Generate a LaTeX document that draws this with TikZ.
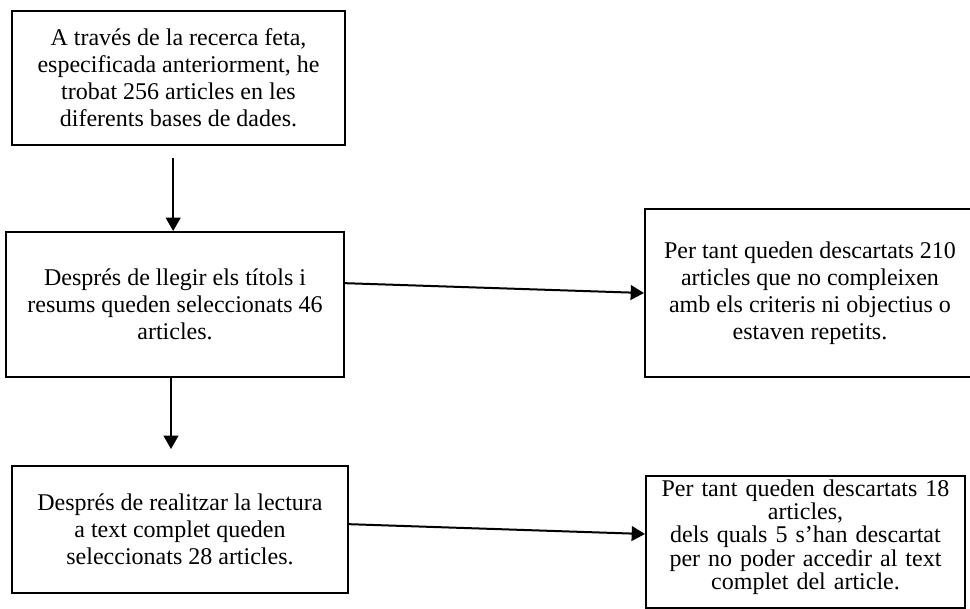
\documentclass[tikz,border=0pt]{standalone}
\usepackage{fontspec}
\setmainfont{Liberation Serif}
\usetikzlibrary{arrows.meta}
\begin{document}
\begin{tikzpicture}[x=0.75pt,y=-0.75pt,
        box/.style={draw,line width=1.5pt,align=center,inner sep=0pt,font=\fontsize{18}{20.25}\selectfont},
        flow/.style={line width=1.5pt,-{Triangle[length=10pt,width=11pt]}}]
        \useasboundingbox (0,0) rectangle (970,608);
        \node[box,minimum width=249.75pt,minimum height=100.5pt] (cerca) at (178.5,78) {A través de la recerca feta,\\especificada anteriorment, he\\trobat 256 articles en les\\diferents bases de dades.};
        \node[box,minimum width=253.5pt,minimum height=108.75pt] (seleccio) at (175,304.5) {Després de llegir els títols i\\resums queden seleccionats 46\\articles.};
        \node[box,minimum width=247.5pt,minimum height=126pt] (descartats) at (810,293) {Per tant queden descartats 210\\articles que no compleixen\\amb els criteris ni objectius o\\estaven repetits.};
        \node[box,minimum width=252pt,minimum height=95.25pt] (lectura) at (180,529.5) {Després de realitzar la lectura\\a text complet queden\\seleccionats 28 articles.};
        \node[box,anchor=north,text width=239.25pt,text height=15pt,text depth=84pt,font=\fontsize{18}{17.5}\selectfont] (exclosos) at (805.5,475) {Per tant queden descartats 18\\articles,\\dels quals 5 s’han descartat\\per no poder accedir al text\\complet del article.};
        \draw[flow,shorten <=9pt] ([xshift=-4pt]cerca.south) -- ([xshift=-4pt]cerca.south |- seleccio.north);
        \draw[flow,shorten >=12pt] ([xshift=-3pt]seleccio.south) -- ([xshift=-3pt]seleccio.south |- lectura.north);
        \draw[flow] ([yshift=16pt]seleccio.east) -- (descartats.west);
        \draw[flow] ([yshift=4pt]lectura.east) -- ([yshift=6pt]exclosos.west);
    \end{tikzpicture}
\end{document}
